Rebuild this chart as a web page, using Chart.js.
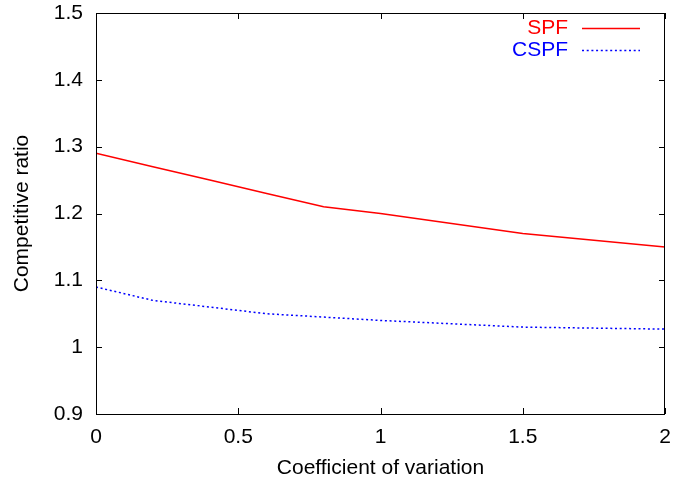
<!DOCTYPE html>
<html>
<head>
<meta charset="utf-8">
<script src="https://cdn.jsdelivr.net/npm/chart.js@4"></script>
<style>
html,body{margin:0;padding:0;background:#fff;}
#wrap{width:690px;height:483px;}
</style>
</head>
<body>
<div id="wrap"><canvas id="c" width="690" height="483"></canvas></div>
<script>
const xValues = [0, 0.2, 0.4, 0.6, 0.8, 1.0, 1.5, 2.0];
const spfValues = [1.29, 1.27, 1.25, 1.23, 1.21, 1.20, 1.17, 1.15];
const cspfValues = [1.09, 1.07, 1.06, 1.05, 1.045, 1.04, 1.03, 1.027];
const seriesNames = ['SPF', 'CSPF'];
const xTitle = 'Coefficient of variation';
const yTitle = 'Competitive ratio';

const FONT = '"Liberation Sans", Arial, Helvetica, sans-serif';
const FS = 21;

const fmt = v => String(+Number(v).toFixed(2));

const frameTicks = {
  id: 'frameTicks',
  afterDraw(chart) {
    const {ctx, chartArea: a, scales} = chart;
    ctx.save();
    ctx.strokeStyle = '#000';
    ctx.lineWidth = 1;
    ctx.strokeRect(a.left + 0.5, a.top + 0.5, a.right - a.left - 1, a.bottom - a.top);
    const L = 6;
    ctx.beginPath();
    scales.x.ticks.forEach(t => {
      const px = Math.round(scales.x.getPixelForValue(t.value)) + 0.5;
      ctx.moveTo(px, a.bottom); ctx.lineTo(px, a.bottom - L);
      ctx.moveTo(px, a.top); ctx.lineTo(px, a.top + L);
    });
    scales.y.ticks.forEach(t => {
      const py = Math.round(scales.y.getPixelForValue(t.value)) + 0.5;
      ctx.moveTo(a.left, py); ctx.lineTo(a.left + L, py);
      ctx.moveTo(a.right, py); ctx.lineTo(a.right - L, py);
    });
    ctx.stroke();
    // legend
    ctx.font = FS + 'px ' + FONT;
    ctx.textAlign = 'right';
    ctx.textBaseline = 'middle';
    chart.data.datasets.forEach((ds, i) => {
      const y = a.top + 15 + i * 22;
      ctx.fillStyle = ds.borderColor;
      ctx.fillText(ds.label, a.right - 97, y);
      ctx.strokeStyle = ds.borderColor;
      ctx.lineWidth = ds.borderWidth;
      ctx.setLineDash(ds.borderDash || []);
      ctx.beginPath();
      ctx.moveTo(a.right - 83, y + 0.5);
      ctx.lineTo(a.right - 25, y + 0.5);
      ctx.stroke();
    });
    ctx.restore();
  }
};

new Chart(document.getElementById('c'), {
  type: 'line',
  data: {
    datasets: [
      {
        label: seriesNames[0],
        data: xValues.map((x, i) => ({x: x, y: spfValues[i]})),
        borderColor: '#ff0000',
        borderWidth: 1.5,
        pointRadius: 0,
        tension: 0,
        fill: false
      },
      {
        label: seriesNames[1],
        data: xValues.map((x, i) => ({x: x, y: cspfValues[i]})),
        borderColor: '#0000ff',
        borderWidth: 1.5,
        borderDash: [2, 2.7],
        pointRadius: 0,
        tension: 0,
        fill: false
      }
    ]
  },
  options: {
    responsive: false,
    animation: false,
    devicePixelRatio: 1,
    layout: {padding: {left: 0, right: 25, top: 13, bottom: 0}},
    plugins: {legend: {display: false}, tooltip: {enabled: false}},
    scales: {
      x: {
        type: 'linear',
        min: 0, max: 2,
        ticks: {stepSize: 0.5, color: '#000', font: {family: FONT, size: FS}, padding: 11, maxRotation: 0, callback: fmt},
        grid: {drawOnChartArea: false, drawTicks: false},
        border: {display: false},
        title: {display: true, text: xTitle, color: '#000', font: {family: FONT, size: FS}, padding: {top: 0, bottom: 2}},
        afterFit(s) { s.height = 69; s.paddingLeft = 0; s.paddingRight = 0; }
      },
      y: {
        type: 'linear',
        min: 0.9, max: 1.5,
        ticks: {stepSize: 0.1, color: '#000', font: {family: FONT, size: FS}, padding: 13, callback: fmt},
        grid: {drawOnChartArea: false, drawTicks: false},
        border: {display: false},
        title: {display: true, text: yTitle, color: '#000', font: {family: FONT, size: FS}, padding: {top: 10, bottom: 0}},
        afterFit(s) { s.width = 96; s.paddingTop = 0; s.paddingBottom = 0; }
      }
    }
  },
  plugins: [frameTicks]
});
</script>
</body>
</html>
